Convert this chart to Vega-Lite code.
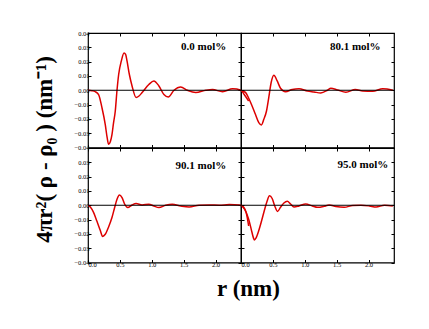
{
  "$schema": "https://vega.github.io/schema/vega-lite/v6.json",
  "autosize": {"type": "pad"},
  "padding": {"left": 32, "top": 29, "right": 0, "bottom": 0},
  "background": "white",
  "config": {
    "view": {"stroke": "black", "strokeWidth": 1.2},
    "font": "Liberation Serif",
    "axis": {
      "domain": false,
      "grid": false,
      "tickColor": "black",
      "tickSize": -3,
      "tickWidth": 1,
      "labelFont": "Liberation Serif",
      "labelFontSize": 6.5,
      "labelColor": "black",
      "labelPadding": 2,
      "title": null
    }
  },
  "datasets": {
    "one": [{"k": 1}],
    "rdf": [
      {"p": "0.0", "r": 0, "g": 0},
      {"p": "0.0", "r": 0.06, "g": -0.0003},
      {"p": "0.0", "r": 0.113, "g": -0.001},
      {"p": "0.0", "r": 0.166, "g": -0.003},
      {"p": "0.0", "r": 0.218, "g": -0.012},
      {"p": "0.0", "r": 0.271, "g": -0.024},
      {"p": "0.0", "r": 0.3, "g": -0.033},
      {"p": "0.0", "r": 0.323, "g": -0.0378},
      {"p": "0.0", "r": 0.35, "g": -0.036},
      {"p": "0.0", "r": 0.376, "g": -0.031},
      {"p": "0.0", "r": 0.4, "g": -0.023},
      {"p": "0.0", "r": 0.428, "g": -0.0145},
      {"p": "0.0", "r": 0.455, "g": 0},
      {"p": "0.0", "r": 0.481, "g": 0.011},
      {"p": "0.0", "r": 0.523, "g": 0.0205},
      {"p": "0.0", "r": 0.565, "g": 0.026},
      {"p": "0.0", "r": 0.59, "g": 0.025},
      {"p": "0.0", "r": 0.612, "g": 0.0205},
      {"p": "0.0", "r": 0.649, "g": 0.011},
      {"p": "0.0", "r": 0.691, "g": 0.003},
      {"p": "0.0", "r": 0.754, "g": -0.005},
      {"p": "0.0", "r": 0.8, "g": -0.004},
      {"p": "0.0", "r": 0.849, "g": -0.0016},
      {"p": "0.0", "r": 0.954, "g": 0.004},
      {"p": "0.0", "r": 1.033, "g": 0.0065},
      {"p": "0.0", "r": 1.112, "g": 0.003},
      {"p": "0.0", "r": 1.191, "g": -0.003},
      {"p": "0.0", "r": 1.259, "g": -0.0047},
      {"p": "0.0", "r": 1.349, "g": 0},
      {"p": "0.0", "r": 1.454, "g": 0.0023},
      {"p": "0.0", "r": 1.559, "g": 0},
      {"p": "0.0", "r": 1.69, "g": -0.0016},
      {"p": "0.0", "r": 1.848, "g": 0},
      {"p": "0.0", "r": 1.953, "g": 0.0005},
      {"p": "0.0", "r": 2.111, "g": -0.001},
      {"p": "0.0", "r": 2.268, "g": 0.001},
      {"p": "0.0", "r": 2.4, "g": 0},
      {"p": "0.0", "r": 2.45, "g": -0.003},
      {"p": "0.0", "r": 2.52, "g": -0.0075},

      {"p": "80.1", "r": 0, "g": -0.0005},
      {"p": "80.1", "r": 0.068, "g": -0.0014},
      {"p": "80.1", "r": 0.121, "g": -0.0056},
      {"p": "80.1", "r": 0.174, "g": -0.011},
      {"p": "80.1", "r": 0.226, "g": -0.0168},
      {"p": "80.1", "r": 0.279, "g": -0.0226},
      {"p": "80.1", "r": 0.321, "g": -0.0242},
      {"p": "80.1", "r": 0.358, "g": -0.0203},
      {"p": "80.1", "r": 0.4, "g": -0.0145},
      {"p": "80.1", "r": 0.436, "g": -0.005},
      {"p": "80.1", "r": 0.473, "g": 0.0054},
      {"p": "80.1", "r": 0.515, "g": 0.0105},
      {"p": "80.1", "r": 0.568, "g": 0.0065},
      {"p": "80.1", "r": 0.62, "g": 0.0014},
      {"p": "80.1", "r": 0.699, "g": -0.001},
      {"p": "80.1", "r": 0.804, "g": 0.0005},
      {"p": "80.1", "r": 0.91, "g": 0.001},
      {"p": "80.1", "r": 1.041, "g": -0.0005},
      {"p": "80.1", "r": 1.146, "g": -0.0012},
      {"p": "80.1", "r": 1.251, "g": -0.0019},
      {"p": "80.1", "r": 1.356, "g": 0},
      {"p": "80.1", "r": 1.409, "g": 0.0014},
      {"p": "80.1", "r": 1.514, "g": 0.0002},
      {"p": "80.1", "r": 1.646, "g": -0.0014},
      {"p": "80.1", "r": 1.793, "g": 0.0005},
      {"p": "80.1", "r": 1.909, "g": -0.0005},
      {"p": "80.1", "r": 2.066, "g": -0.0007},
      {"p": "80.1", "r": 2.224, "g": 0.001},
      {"p": "80.1", "r": 2.382, "g": 0},

      {"p": "90.1", "r": 0, "g": 0},
      {"p": "90.1", "r": 0.037, "g": -0.0012},
      {"p": "90.1", "r": 0.087, "g": -0.005},
      {"p": "90.1", "r": 0.139, "g": -0.011},
      {"p": "90.1", "r": 0.192, "g": -0.0175},
      {"p": "90.1", "r": 0.229, "g": -0.0218},
      {"p": "90.1", "r": 0.271, "g": -0.0203},
      {"p": "90.1", "r": 0.323, "g": -0.0152},
      {"p": "90.1", "r": 0.376, "g": -0.0086},
      {"p": "90.1", "r": 0.418, "g": -0.0016},
      {"p": "90.1", "r": 0.455, "g": 0.0042},
      {"p": "90.1", "r": 0.492, "g": 0.0072},
      {"p": "90.1", "r": 0.534, "g": 0.0054},
      {"p": "90.1", "r": 0.576, "g": 0.0007},
      {"p": "90.1", "r": 0.623, "g": -0.0016},
      {"p": "90.1", "r": 0.691, "g": 0.0002},
      {"p": "90.1", "r": 0.754, "g": 0.0012},
      {"p": "90.1", "r": 0.849, "g": 0.0002},
      {"p": "90.1", "r": 0.954, "g": 0.0007},
      {"p": "90.1", "r": 1.033, "g": -0.0005},
      {"p": "90.1", "r": 1.112, "g": -0.0016},
      {"p": "90.1", "r": 1.217, "g": 0},
      {"p": "90.1", "r": 1.322, "g": 0.0007},
      {"p": "90.1", "r": 1.454, "g": -0.0005},
      {"p": "90.1", "r": 1.586, "g": -0.0012},
      {"p": "90.1", "r": 1.743, "g": 0},
      {"p": "90.1", "r": 1.901, "g": 0.0002},
      {"p": "90.1", "r": 2.059, "g": 0},
      {"p": "90.1", "r": 2.216, "g": 0.0005},
      {"p": "90.1", "r": 2.374, "g": 0.0002},
      {"p": "90.1", "r": 2.426, "g": -0.001},
      {"p": "90.1", "r": 2.48, "g": -0.005},
      {"p": "90.1", "r": 2.52, "g": -0.0145},

      {"p": "95.0", "r": 0, "g": 0},
      {"p": "95.0", "r": 0.042, "g": -0.0014},
      {"p": "95.0", "r": 0.079, "g": -0.0047},
      {"p": "95.0", "r": 0.121, "g": -0.01},
      {"p": "95.0", "r": 0.158, "g": -0.0163},
      {"p": "95.0", "r": 0.195, "g": -0.0228},
      {"p": "95.0", "r": 0.21, "g": -0.0242},
      {"p": "95.0", "r": 0.237, "g": -0.0228},
      {"p": "95.0", "r": 0.279, "g": -0.0177},
      {"p": "95.0", "r": 0.321, "g": -0.0112},
      {"p": "95.0", "r": 0.363, "g": -0.0042},
      {"p": "95.0", "r": 0.405, "g": 0.0023},
      {"p": "95.0", "r": 0.447, "g": 0.0066},
      {"p": "95.0", "r": 0.489, "g": 0.0047},
      {"p": "95.0", "r": 0.531, "g": -0.0007},
      {"p": "95.0", "r": 0.573, "g": -0.0043},
      {"p": "95.0", "r": 0.62, "g": -0.0014},
      {"p": "95.0", "r": 0.673, "g": 0.0016},
      {"p": "95.0", "r": 0.726, "g": 0.0028},
      {"p": "95.0", "r": 0.778, "g": 0.0009},
      {"p": "95.0", "r": 0.831, "g": -0.0012},
      {"p": "95.0", "r": 0.91, "g": -0.0005},
      {"p": "95.0", "r": 1.015, "g": 0.0009},
      {"p": "95.0", "r": 1.12, "g": -0.0005},
      {"p": "95.0", "r": 1.199, "g": -0.0014},
      {"p": "95.0", "r": 1.304, "g": -0.0007},
      {"p": "95.0", "r": 1.383, "g": 0.0002},
      {"p": "95.0", "r": 1.488, "g": -0.0009},
      {"p": "95.0", "r": 1.619, "g": -0.0014},
      {"p": "95.0", "r": 1.751, "g": -0.0002},
      {"p": "95.0", "r": 1.882, "g": 0},
      {"p": "95.0", "r": 2.014, "g": -0.0005},
      {"p": "95.0", "r": 2.119, "g": -0.0012},
      {"p": "95.0", "r": 2.251, "g": 0},
      {"p": "95.0", "r": 2.382, "g": -0.0005}
    ]
  },
  "columns": 2,
  "spacing": 0,
  "bounds": "flush",
  "concat": [
    {
      "width": 153, "height": 114.5,
      "resolve": {"axis": {"x": "independent", "y": "independent"}},
      "layer": [
        {
          "data": {"name": "rdf"},
          "transform": [{"filter": "datum.p == '0.0'"}],
          "mark": {"type": "line", "color": "#dd0000", "strokeWidth": 1.5, "interpolate": "monotone", "clip": false},
          "encoding": {
            "x": {"field": "r", "type": "quantitative", "scale": {"domain": [0, 2.4], "nice": false, "zero": false},
                  "axis": {"orient": "bottom", "values": [0, 0.5, 1, 1.5, 2], "labels": false}},
            "y": {"field": "g", "type": "quantitative", "scale": {"domain": [-0.04, 0.04], "nice": false},
                  "axis": {"orient": "left", "values": [-0.04, -0.03, -0.02, -0.01, 0, 0.01, 0.02, 0.03, 0.04], "format": ".2f",
                           "title": "4πr²( ρ - ρ₀ )  (nm⁻¹)", "titleFont": "Liberation Serif", "titleFontSize": 23, "titleFontWeight": "bold",
                           "titleColor": "black", "titleAngle": -90, "titleAlign": "center", "titleBaseline": "alphabetic",
                           "titleX": -36.5, "titleY": 116}}
          }
        },
        {
          "data": {"name": "one"},
          "mark": {"type": "rule", "color": "black", "strokeWidth": 1},
          "encoding": {
            "y": {"datum": 0, "axis": {"orient": "right", "values": [-0.04, -0.03, -0.02, -0.01, 0, 0.01, 0.02, 0.03, 0.04], "labels": false}}
          }
        },
        {
          "data": {"name": "one"},
          "mark": {"type": "text", "text": "0.0 mol%", "font": "Liberation Serif", "fontSize": 11, "fontWeight": "bold", "align": "right", "baseline": "middle", "color": "black"},
          "encoding": {
            "x": {"datum": 2.17, "axis": {"orient": "top", "values": [0, 0.5, 1, 1.5, 2], "labels": false}},
            "y": {"datum": 0.03, "axis": null}
          }
        }
      ]
    },
    {
      "width": 153, "height": 114.5,
      "resolve": {"axis": {"x": "independent", "y": "independent"}},
      "layer": [
        {
          "data": {"name": "rdf"},
          "transform": [{"filter": "datum.p == '80.1'"}],
          "mark": {"type": "line", "color": "#dd0000", "strokeWidth": 1.5, "interpolate": "monotone", "clip": false},
          "encoding": {
            "x": {"field": "r", "type": "quantitative", "scale": {"domain": [0, 2.4], "nice": false, "zero": false},
                  "axis": {"orient": "bottom", "values": [0, 0.5, 1, 1.5, 2], "labels": false}},
            "y": {"field": "g", "type": "quantitative", "scale": {"domain": [-0.04, 0.04], "nice": false},
                  "axis": {"orient": "left", "values": [-0.04, -0.03, -0.02, -0.01, 0, 0.01, 0.02, 0.03, 0.04], "labels": false}}
          }
        },
        {
          "data": {"name": "one"},
          "mark": {"type": "rule", "color": "black", "strokeWidth": 1},
          "encoding": {
            "y": {"datum": 0, "axis": {"orient": "right", "values": [-0.04, -0.03, -0.02, -0.01, 0, 0.01, 0.02, 0.03, 0.04], "labels": false}}
          }
        },
        {
          "data": {"name": "one"},
          "mark": {"type": "text", "text": "80.1 mol%", "font": "Liberation Serif", "fontSize": 11, "fontWeight": "bold", "align": "right", "baseline": "middle", "color": "black"},
          "encoding": {
            "x": {"datum": 2.19, "axis": {"orient": "top", "values": [0, 0.5, 1, 1.5, 2], "labels": false}},
            "y": {"datum": 0.0305, "axis": null}
          }
        }
      ]
    },
    {
      "width": 153, "height": 114.5,
      "resolve": {"axis": {"x": "independent", "y": "independent"}},
      "layer": [
        {
          "data": {"name": "rdf"},
          "transform": [{"filter": "datum.p == '90.1'"}],
          "mark": {"type": "line", "color": "#dd0000", "strokeWidth": 1.5, "interpolate": "monotone", "clip": false},
          "encoding": {
            "x": {"field": "r", "type": "quantitative", "scale": {"domain": [0, 2.4], "nice": false, "zero": false},
                  "axis": {"orient": "bottom", "values": [0, 0.5, 1, 1.5, 2], "format": ".1f",
                           "title": "r  (nm)", "titleFont": "Liberation Serif", "titleFontSize": 23, "titleFontWeight": "bold",
                           "titleColor": "black", "titleAlign": "center", "titleBaseline": "alphabetic", "titleX": 160, "titleY": 33}},
            "y": {"field": "g", "type": "quantitative", "scale": {"domain": [-0.04, 0.04], "nice": false},
                  "axis": {"orient": "left", "values": [-0.04, -0.03, -0.02, -0.01, 0, 0.01, 0.02, 0.03], "format": ".2f"}}
          }
        },
        {
          "data": {"name": "one"},
          "mark": {"type": "rule", "color": "black", "strokeWidth": 1},
          "encoding": {
            "y": {"datum": 0, "axis": {"orient": "right", "values": [-0.04, -0.03, -0.02, -0.01, 0, 0.01, 0.02, 0.03, 0.04], "labels": false}}
          }
        },
        {
          "data": {"name": "one"},
          "mark": {"type": "text", "text": "90.1 mol%", "font": "Liberation Serif", "fontSize": 11, "fontWeight": "bold", "align": "right", "baseline": "middle", "color": "black"},
          "encoding": {
            "x": {"datum": 2.17, "axis": {"orient": "top", "values": [0, 0.5, 1, 1.5, 2], "labels": false}},
            "y": {"datum": 0.0277, "axis": null}
          }
        }
      ]
    },
    {
      "width": 153, "height": 114.5,
      "resolve": {"axis": {"x": "independent", "y": "independent"}},
      "layer": [
        {
          "data": {"name": "rdf"},
          "transform": [{"filter": "datum.p == '95.0'"}],
          "mark": {"type": "line", "color": "#dd0000", "strokeWidth": 1.5, "interpolate": "monotone", "clip": false},
          "encoding": {
            "x": {"field": "r", "type": "quantitative", "scale": {"domain": [0, 2.4], "nice": false, "zero": false},
                  "axis": {"orient": "bottom", "values": [0, 0.5, 1, 1.5, 2], "format": ".1f"}},
            "y": {"field": "g", "type": "quantitative", "scale": {"domain": [-0.04, 0.04], "nice": false},
                  "axis": {"orient": "left", "values": [-0.04, -0.03, -0.02, -0.01, 0, 0.01, 0.02, 0.03, 0.04], "labels": false}}
          }
        },
        {
          "data": {"name": "one"},
          "mark": {"type": "rule", "color": "black", "strokeWidth": 1},
          "encoding": {
            "y": {"datum": 0, "axis": {"orient": "right", "values": [-0.04, -0.03, -0.02, -0.01, 0, 0.01, 0.02, 0.03, 0.04], "labels": false}}
          }
        },
        {
          "data": {"name": "one"},
          "mark": {"type": "text", "text": "95.0 mol%", "font": "Liberation Serif", "fontSize": 11, "fontWeight": "bold", "align": "right", "baseline": "middle", "color": "black"},
          "encoding": {
            "x": {"datum": 2.31, "axis": {"orient": "top", "values": [0, 0.5, 1, 1.5, 2], "labels": false}},
            "y": {"datum": 0.028, "axis": null}
          }
        }
      ]
    }
  ]
}
